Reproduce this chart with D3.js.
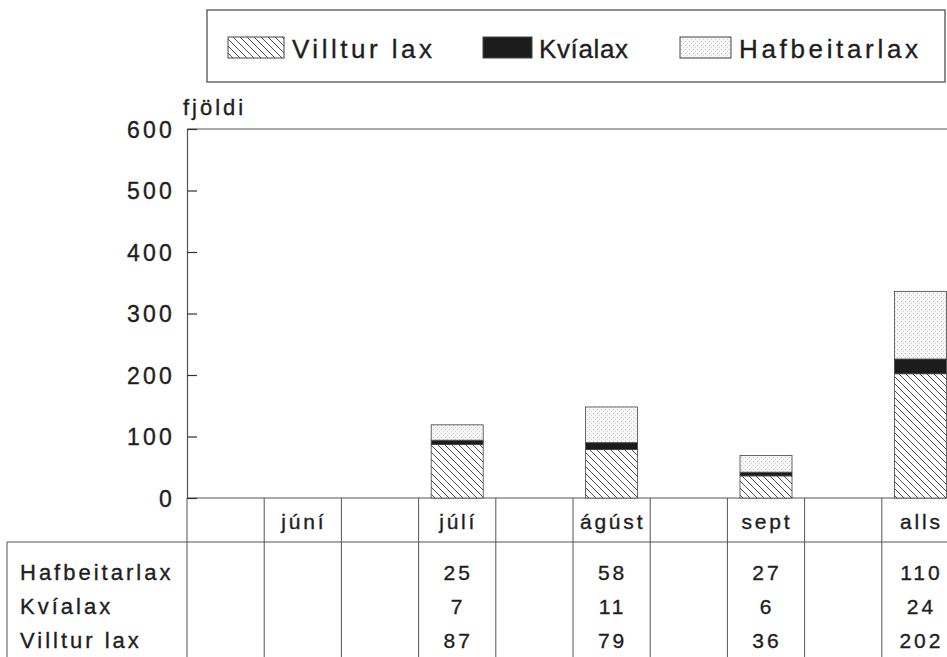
<!DOCTYPE html>
<html>
<head>
<meta charset="utf-8">
<script src="https://cdn.jsdelivr.net/npm/d3@7"></script>
<style>
  html, body { margin: 0; padding: 0; background: #fff; }
  svg { display: block; }
  text { font-family: "Liberation Sans", Arial, sans-serif; fill: #1e1e1e; stroke: #1e1e1e; stroke-width: 0.35px; }
</style>
</head>
<body>
<svg id="chart" width="947" height="657"></svg>
<script>
// ---- data ----
const months = ["júní", "júlí", "ágúst", "sept", "alls"];
const seriesNames = ["Villtur lax", "Kvíalax", "Hafbeitarlax"];
const villturLax = [null, 87, 79, 36, 202];
const kvialax = [null, 7, 11, 6, 24];
const hafbeitarlax = [null, 25, 58, 27, 110];
const yTicks = [0, 100, 200, 300, 400, 500, 600];
const tableRows = ["Hafbeitarlax", "Kvíalax", "Villtur lax"];

// ---- layout ----
const W = 947, H = 657;
const axisX = 187, colW = 77.2, nCols = 10;
const y0 = 498, yTop = 129;
const tableTop = 542;
const barW = 52;

const svg = d3.select("#chart");
const defs = svg.append("defs");

// hatch pattern
const hatch = defs.append("pattern").attr("id", "hatch")
  .attr("patternUnits", "userSpaceOnUse").attr("width", 7).attr("height", 7);
hatch.append("rect").attr("width", 7).attr("height", 7).attr("fill", "#fff");
hatch.append("path").attr("d", "M0,0 L7,7 M-1,6 L1,8 M6,-1 L8,1")
  .attr("stroke", "#3a3a3a").attr("stroke-width", 0.9);

// dotted pattern
const dots = defs.append("pattern").attr("id", "dots")
  .attr("patternUnits", "userSpaceOnUse").attr("width", 4).attr("height", 4);
dots.append("rect").attr("width", 4).attr("height", 4).attr("fill", "#f6f6f6");
dots.append("rect").attr("x", 1).attr("y", 1).attr("width", 1).attr("height", 1).attr("fill", "#c4c4c4");
dots.append("rect").attr("x", 3).attr("y", 3).attr("width", 1).attr("height", 1).attr("fill", "#d6d6d6");

const fills = { "Villtur lax": "url(#hatch)", "Kvíalax": "#1c1c1c", "Hafbeitarlax": "url(#dots)" };

// scales
const x = d3.scaleBand().domain(d3.range(nCols)).range([axisX, axisX + colW * nCols]).padding(0);
const colOf = i => 2 * i + 1;
const y = d3.scaleLinear().domain([0, 600]).range([y0, yTop]);

const lineColor = "#555";

// top frame line and baseline
svg.append("line").attr("x1", axisX).attr("x2", W).attr("y1", y(600)).attr("y2", y(600))
  .attr("stroke", lineColor).attr("stroke-width", 1.2);
svg.append("line").attr("x1", axisX).attr("x2", W).attr("y1", y(0)).attr("y2", y(0))
  .attr("stroke", lineColor).attr("stroke-width", 1.2);

// y axis
const yAxis = d3.axisLeft(y).tickValues(yTicks).tickSize(-10).tickSizeOuter(0).tickPadding(12);
const gy = svg.append("g").attr("transform", `translate(${axisX},0)`).call(yAxis);
gy.select(".domain").attr("stroke", lineColor).attr("stroke-width", 1.2);
gy.selectAll(".tick line").attr("stroke", "#333").attr("stroke-width", 1.2);
gy.selectAll(".tick text")
  .style("font-family", '"Liberation Sans", Arial, sans-serif')
  .style("font-size", "23px").style("letter-spacing", "3.2px")
  .attr("fill", "#1e1e1e").attr("stroke", "#1e1e1e").attr("stroke-width", 0.45)
  .attr("dy", "0.36em");

// y label
svg.append("text").attr("x", 183).attr("y", 115).text("fjöldi")
  .style("font-size", "22px").style("letter-spacing", "3px");

// stacked data
const rows = months.map((m, i) => ({
  month: m, i,
  "Villtur lax": villturLax[i] || 0,
  "Kvíalax": kvialax[i] || 0,
  "Hafbeitarlax": hafbeitarlax[i] || 0,
  has: villturLax[i] != null
}));
const stack = d3.stack().keys(seriesNames)(rows.filter(r => r.has));

svg.append("g").selectAll("g").data(stack).join("g")
  .attr("fill", d => fills[d.key])
  .selectAll("rect").data(d => d).join("rect")
  .attr("x", d => x(colOf(d.data.i)) + (colW - barW) / 2)
  .attr("width", barW)
  .attr("y", d => y(d[1]))
  .attr("height", d => y(d[0]) - y(d[1]))
  .attr("stroke", "#444").attr("stroke-width", 0.8);

// table grid
const grid = svg.append("g").attr("stroke", lineColor).attr("stroke-width", 1);
grid.append("line").attr("x1", axisX).attr("x2", axisX).attr("y1", y0).attr("y2", H);
d3.range(1, nCols).forEach(c => {
  grid.append("line").attr("x1", x(c)).attr("x2", x(c)).attr("y1", y0).attr("y2", H);
});
grid.append("line").attr("x1", 7).attr("x2", W).attr("y1", tableTop).attr("y2", tableTop);
grid.append("line").attr("x1", 7).attr("x2", 7).attr("y1", tableTop).attr("y2", H);

// month header labels
svg.append("g").selectAll("text").data(months).join("text")
  .attr("x", (d, i) => x(colOf(i)) + colW / 2 + 1)
  .attr("y", 529)
  .attr("text-anchor", "middle")
  .style("font-size", "21px").style("letter-spacing", "2.8px")
  .text(d => d);

// table row labels
const rowY = [580, 614, 648];
svg.append("g").selectAll("text").data(tableRows).join("text")
  .attr("x", 20).attr("y", (d, i) => rowY[i])
  .style("font-size", "22px").style("letter-spacing", "3px")
  .text(d => d);

// table values
const tableVals = [hafbeitarlax, kvialax, villturLax];
tableVals.forEach((arr, r) => {
  svg.append("g").selectAll("text").data(arr).join("text")
    .attr("x", (d, i) => x(colOf(i)) + colW / 2 + 1)
    .attr("y", rowY[r])
    .attr("text-anchor", "middle")
    .style("font-size", "21px").style("letter-spacing", "3px")
    .text(d => d == null ? "" : d);
});

// legend
const lg = svg.append("g");
lg.append("rect").attr("x", 207).attr("y", 10).attr("width", 738).attr("height", 72)
  .attr("fill", "none").attr("stroke", "#444").attr("stroke-width", 1.2);
const legendItems = [
  { name: "Villtur lax", sx: 228, sw: 56, tx: 292, tl: 140 },
  { name: "Kvíalax", sx: 483, sw: 49, tx: 539, tl: 89 },
  { name: "Hafbeitarlax", sx: 680, sw: 51, tx: 739, tl: 179 }
];
legendItems.forEach(it => {
  lg.append("rect").attr("x", it.sx).attr("y", 37).attr("width", it.sw).attr("height", 21)
    .attr("fill", fills[it.name]).attr("stroke", "#444").attr("stroke-width", 1);
  lg.append("text").attr("x", it.tx).attr("y", 58).text(it.name)
    .attr("textLength", it.tl).attr("lengthAdjust", "spacing")
    .style("font-size", "26px");
});
</script>
</body>
</html>
